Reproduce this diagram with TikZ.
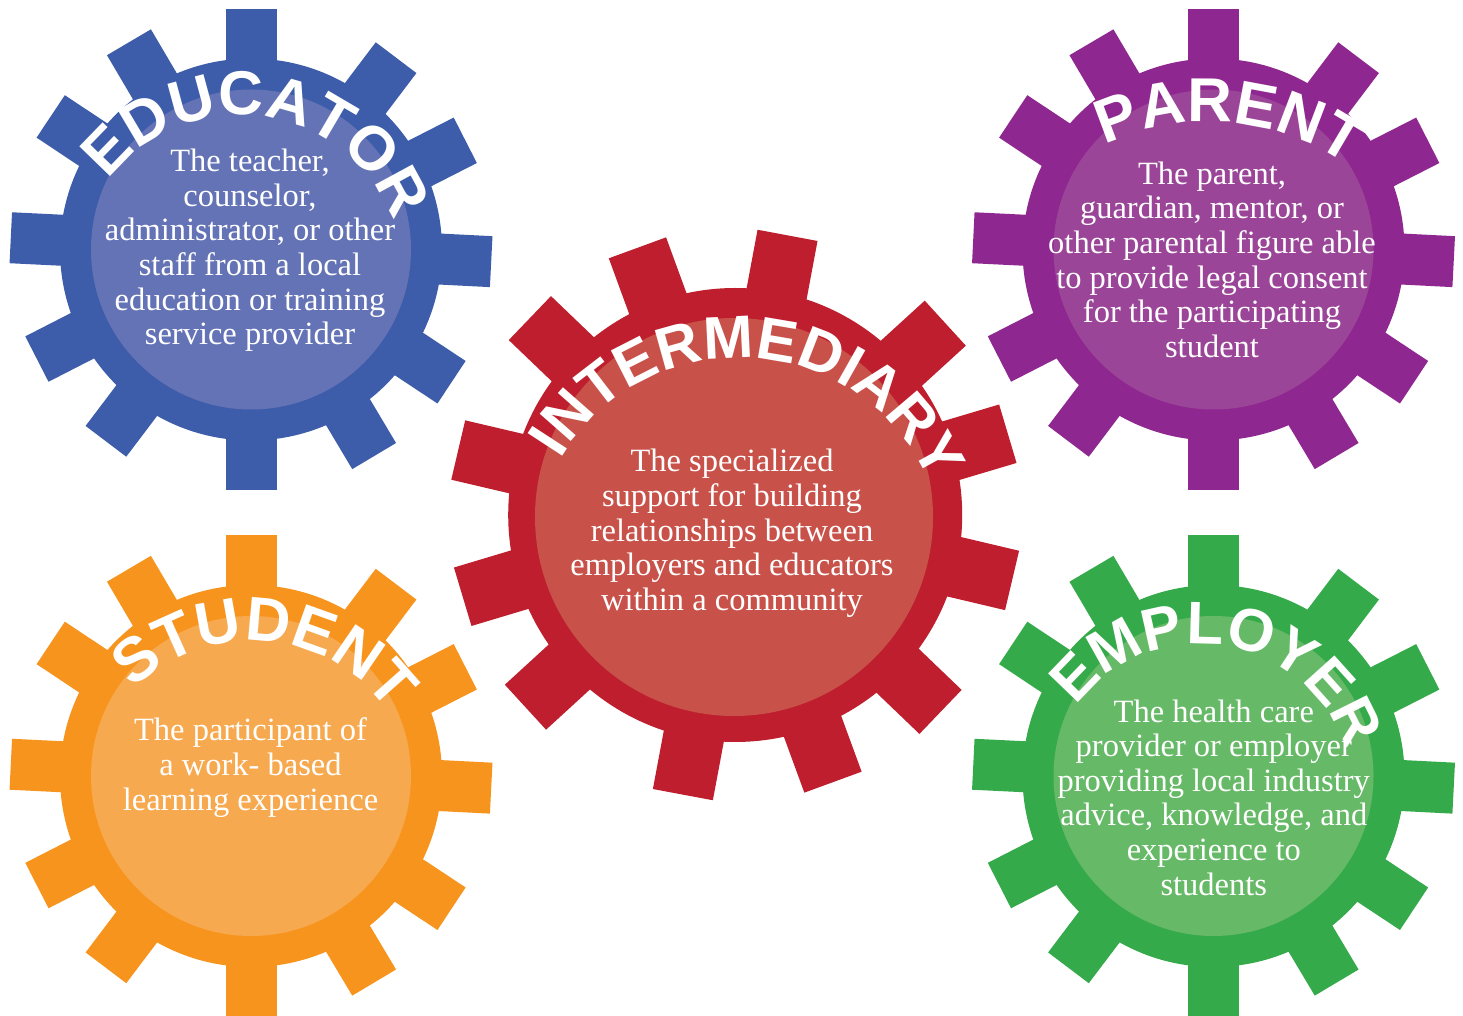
\documentclass[tikz,border=0pt]{standalone}
\usepackage{fontspec}
\setmainfont{Liberation Serif}
\newfontfamily\titlefont{Liberation Sans}
\usetikzlibrary{decorations.text}
\definecolor{blueO}{HTML}{3D5CA9}
\definecolor{blueI}{HTML}{6473B5}
\definecolor{purpO}{HTML}{8E278F}
\definecolor{purpI}{HTML}{9B4598}
\definecolor{redO}{HTML}{BE1E2D}
\definecolor{redI}{HTML}{C8524A}
\definecolor{oranO}{HTML}{F7941E}
\definecolor{oranI}{HTML}{F7A94F}
\definecolor{greenO}{HTML}{35AA4A}
\definecolor{greenI}{HTML}{66B966}
\newcommand\bfontx{\fontsize{32.5}{34.6}\selectfont}
\newcommand\smallgear[4]{%
  \begin{scope}[shift={(#1,#2)}]
    \fill[#3] (0,0) circle[radius=191pt];
    \foreach \a in {90,52.9,27,-2.9,-33.5,-59.2,-90,-127.1,-152.9,177.2,146.4,120.5}
      {\fill[#3,rotate=\a] (180pt,-25.5pt) rectangle (240.5pt,25.5pt);}
    \fill[#4] (0,0) circle[radius=160pt];
  \end{scope}}
\newcommand\arctitle[7]{%
  \path[decorate,decoration={text along path,
      text={|\titlefont\bfseries\fontsize{#7}{#7}\selectfont|#6},
      text align={fit to path},text color=white}]
    (#1,#2) ++(#4:#3pt) arc[start angle=#4,end angle=#5,radius=#3pt];}
\tikzset{bodytext/.style={font=\bfontx,text=white,align=center,anchor=base,inner sep=0pt}}
\begin{document}
\begin{tikzpicture}[x=1pt,y=1pt]
\fill[white] (0,0) rectangle (1463,1015);
\useasboundingbox (0,0) rectangle (1463,1015);
% gears
\smallgear{251}{765.5}{blueO}{blueI}
\smallgear{1213.5}{765.5}{purpO}{purpI}
\smallgear{251}{239}{oranO}{oranI}
\smallgear{1213.5}{239}{greenO}{greenI}
\begin{scope}[shift={(735.2,500)}]
  \fill[redO] (0,0) circle[radius=227pt];
  \foreach \a in {79.4,110.1,136.2,166.8,196.7,222.5,259.4,290.1,316.2,346.7,16.6,42.4}
    {\fill[redO,rotate=\a] (215pt,-30.5pt) rectangle (284.5pt,30.5pt);}
\end{scope}
\fill[redI] (734,498) circle[radius=199pt];
% titles
\arctitle{240}{735.6}{164.5}{143}{25}{EDUCATOR}{62}
\arctitle{1208.4}{651.5}{241.5}{115.4}{56.9}{PARENT}{62}
\arctitle{739.2}{449.4}{208}{149.2}{24.1}{INTERMEDIARY}{60}
\arctitle{251.4}{205.7}{168.5}{134.7}{35.7}{STUDENT}{62}
\arctitle{1199.9}{216.6}{154.4}{143.4}{23}{EMPLOYER}{60}
% body texts (anchor = baseline of the last line)
\node[bodytext] (edu) at (250,670.3) {The teacher,\\counselor,\\administrator, or other\\staff from a local\\education or training\\service provider};
\node[bodytext] (par) at (1212,657.7) {The parent,\\guardian, mentor, or\\other parental figure able\\to provide legal consent\\for the participating\\student};
\node[bodytext] (int) at (732,404.7) {The specialized\\support for building\\relationships between\\employers and educators\\within a community};
\node[bodytext] (stu) at (250.5,205) {The participant of\\a work- based\\learning experience};
\node[bodytext] (emp) at (1213.8,120) {The health care\\provider or employer\\providing local industry\\advice, knowledge, and\\experience to\\students};
\end{tikzpicture}
\end{document}
